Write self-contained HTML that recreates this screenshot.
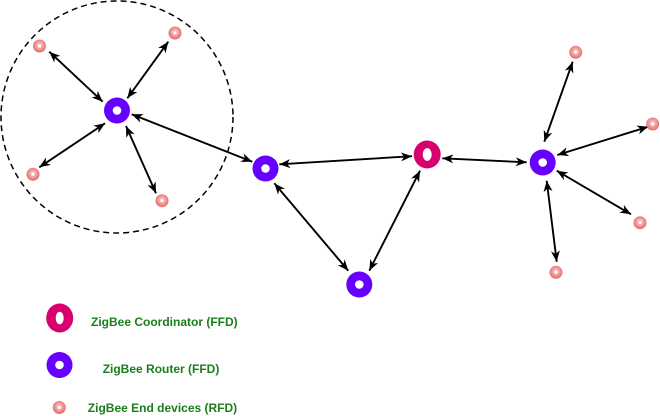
<!DOCTYPE html>
<html>
<head>
<meta charset="utf-8">
<style>
  html, body { margin: 0; padding: 0; background: #ffffff; }
  body { width: 660px; height: 416px; overflow: hidden; }
  svg { display: block; }
  text { font-family: "Liberation Sans", Arial, sans-serif; font-weight: bold; font-size: 12px; fill: #1a7f1a; }
</style>
</head>
<body>
<svg width="660" height="416" viewBox="0 0 660 416" xmlns="http://www.w3.org/2000/svg">
  <defs>
    <marker id="ah" markerUnits="userSpaceOnUse" markerWidth="12" markerHeight="9" refX="11" refY="4.5" orient="auto-start-reverse" viewBox="0 0 12 9">
      <path d="M0,0 L11,4.5 L0,9 L3.2,4.5 Z" fill="#000"/>
    </marker>
    <radialGradient id="ed" cx="50%" cy="45%" r="55%">
      <stop offset="0%" stop-color="#fde0e0"/>
      <stop offset="45%" stop-color="#f4a3a3"/>
      <stop offset="100%" stop-color="#e06868"/>
    </radialGradient>
  </defs>

  <!-- dashed cluster -->
  <circle cx="117" cy="117" r="116" fill="none" stroke="#000" stroke-width="1.5" stroke-dasharray="6,4"/>

  <!-- connectors -->
  <g stroke="#000" stroke-width="1.9" fill="none" marker-start="url(#ah)" marker-end="url(#ah)">
    <line x1="49.3" y1="51.7" x2="102.7" y2="101.7"/>
    <line x1="168.3" y1="41.7" x2="127.3" y2="98.3"/>
    <line x1="39.3" y1="167.3" x2="105" y2="123.3"/>
    <line x1="126" y1="126" x2="156" y2="193.3"/>
    <line x1="131.7" y1="114.3" x2="252.3" y2="161.7"/>
    <line x1="279.3" y1="164.3" x2="412" y2="156.2"/>
    <line x1="274.3" y1="183.3" x2="348.3" y2="270.7"/>
    <line x1="420" y1="170.7" x2="369.3" y2="270.7"/>
    <line x1="442.3" y1="158.3" x2="526.7" y2="162.3"/>
    <line x1="572.7" y1="61.7" x2="544.3" y2="141.7"/>
    <line x1="648.3" y1="126.7" x2="557.3" y2="155"/>
    <line x1="631" y1="214.3" x2="556.7" y2="170.7"/>
    <line x1="546.7" y1="180.7" x2="556.7" y2="261.7"/>
  </g>

  <!-- routers -->
  <g fill="#6600ff">
    <circle cx="117" cy="110.5" r="13"/>
    <circle cx="265.5" cy="168.5" r="13"/>
    <circle cx="359.3" cy="284.5" r="13"/>
    <circle cx="542.7" cy="162.5" r="13"/>
    <circle cx="59.5" cy="365" r="13"/>
  </g>
  <g fill="#fff">
    <circle cx="117" cy="110.5" r="4.3"/>
    <circle cx="265.5" cy="168.5" r="4.3"/>
    <circle cx="359.3" cy="284.5" r="4.3"/>
    <circle cx="542.7" cy="162.5" r="4.3"/>
    <circle cx="59.5" cy="365" r="4.3"/>
  </g>

  <!-- coordinators -->
  <ellipse cx="427.2" cy="154.5" rx="13.5" ry="14" fill="#d6006e"/>
  <ellipse cx="427.2" cy="154.5" rx="4.5" ry="6.4" fill="#fff"/>
  <ellipse cx="59.7" cy="318" rx="13.5" ry="14.5" fill="#d6006e"/>
  <ellipse cx="59.7" cy="318" rx="4" ry="6.3" fill="#fff"/>

  <!-- end devices -->
  <g>
    <circle cx="39.5" cy="46" r="6.5" fill="url(#ed)"/><circle cx="39.5" cy="46" r="1.5" fill="#fff"/>
    <circle cx="175" cy="33" r="6.5" fill="url(#ed)"/><circle cx="175" cy="33" r="1.5" fill="#fff"/>
    <circle cx="33" cy="174.3" r="6.5" fill="url(#ed)"/><circle cx="33" cy="174.3" r="1.5" fill="#fff"/>
    <circle cx="162" cy="200.7" r="6.5" fill="url(#ed)"/><circle cx="162" cy="200.7" r="1.5" fill="#fff"/>
    <circle cx="575.7" cy="52.3" r="6.5" fill="url(#ed)"/><circle cx="575.7" cy="52.3" r="1.5" fill="#fff"/>
    <circle cx="652.7" cy="124" r="6.5" fill="url(#ed)"/><circle cx="652.7" cy="124" r="1.5" fill="#fff"/>
    <circle cx="640" cy="222.7" r="6.5" fill="url(#ed)"/><circle cx="640" cy="222.7" r="1.5" fill="#fff"/>
    <circle cx="556" cy="272.3" r="6.5" fill="url(#ed)"/><circle cx="556" cy="272.3" r="1.5" fill="#fff"/>
    <circle cx="59.3" cy="407.5" r="6.5" fill="url(#ed)"/><circle cx="59.3" cy="407.5" r="1.5" fill="#fff"/>
  </g>

  <!-- legend text -->
  <text x="91" y="325.8">ZigBee Coordinator (FFD)</text>
  <text x="102.7" y="373.2">ZigBee Router (FFD)</text>
  <text x="87.8" y="411.8">ZigBee End devices (RFD)</text>
</svg>
</body>
</html>
